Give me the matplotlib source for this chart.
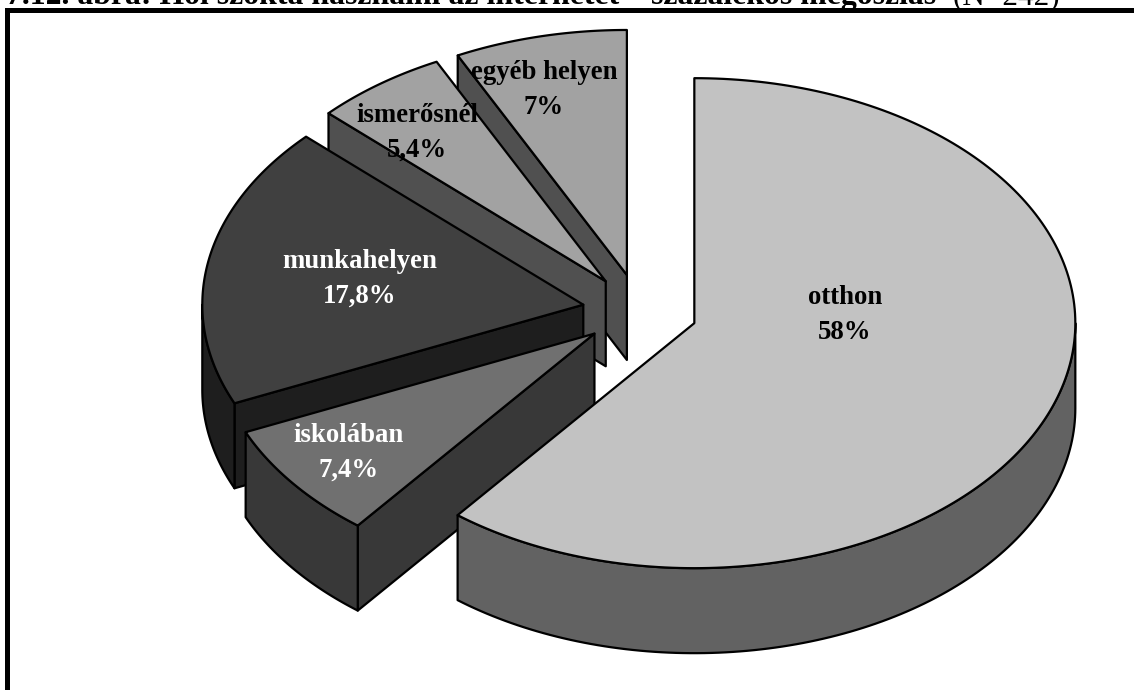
import matplotlib
matplotlib.use('Agg')
import matplotlib.pyplot as plt
import numpy as np
from matplotlib.patches import Polygon, Rectangle

labels = ['otthon', 'iskolában', 'munkahelyen', 'ismerősnél', 'egyéb helyen']
values = [58, 7.4, 17.8, 5.4, 7]
value_labels = ['58%', '7,4%', '17,8%', '5,4%', '7%']

top_colors = ['#c2c2c2', '#707070', '#404040', '#a2a2a2', '#a2a2a2']
side_colors = ['#626262', '#383838', '#1e1e1e', '#505050', '#505050']
text_colors = ['black', 'white', 'white', 'black', 'black']
# centre x and first line baseline of each label
label_pos = [(845, 304), (349, 442), (360, 268), (417, 122), (544, 79)]

# pie geometry in pixels, 3d look is just a squashed circle with a wall
cx, cy = 640, 311
rx, ry = 381, 245
depth = 85
explode = 0.151


def pt(c, theta):
    # theta clockwise from the top, y axis points down
    return np.column_stack((c[0] + rx * np.sin(theta), c[1] - ry * np.cos(theta)))


def wall(points):
    lower = points[::-1] + [0, depth]
    return np.vstack((points, lower))


fig = plt.figure(figsize=(11.34, 6.9), dpi=100)
ax = fig.add_axes([0, 0, 1, 1])
ax.set_xlim(0, 1134)
ax.set_ylim(690, 0)
ax.axis('off')

edges = np.cumsum([0] + values) / sum(values) * 2 * np.pi
slices = []
for i in range(len(values)):
    a0, a1 = edges[i], edges[i + 1]
    mid = (a0 + a1) / 2
    c = (cx + explode * rx * np.sin(mid), cy - explode * ry * np.cos(mid))
    slices.append((i, a0, a1, c))

# back to front, same order as the original
for i, a0, a1, c in [slices[k] for k in (4, 3, 2, 1, 0)]:
    lw = 1.6
    # radial wall, only when it faces the viewer
    if np.sin(a0) < -1e-6:
        seg = np.vstack(([c], pt(c, np.array([a0]))))
        ax.add_patch(Polygon(wall(seg), fc=side_colors[i], ec='black', lw=lw, joinstyle='round'))
    # outer wall
    lo, hi = max(a0, np.pi / 2), min(a1, 3 * np.pi / 2)
    if hi > lo:
        arc = pt(c, np.linspace(lo, hi, 120))
        ax.add_patch(Polygon(wall(arc), fc=side_colors[i], ec='black', lw=lw, joinstyle='round'))
    top = np.vstack(([c], pt(c, np.linspace(a0, a1, 200))))
    ax.add_patch(Polygon(top, fc=top_colors[i], ec='black', lw=lw, joinstyle='round'))

for i in range(len(values)):
    x, y = label_pos[i]
    ax.text(x, y, labels[i], ha='center', va='baseline', color=text_colors[i],
            fontsize=19.3, fontweight='bold', family='Liberation Serif')
    ax.text(x, y + 35, value_labels[i], ha='center', va='baseline', color=text_colors[i],
            fontsize=19.3, fontweight='bold', family='Liberation Serif')

# frame, only top and left are in the crop
ax.add_patch(Rectangle((5, 8), 1129, 5, fc='black', ec='none', zorder=5))
ax.add_patch(Rectangle((5, 8), 5, 682, fc='black', ec='none', zorder=5))

# the title is cut by the top edge in the original too
ax.text(6, 4, '7.12. ábra: Hol szokta használni az internetet – százalékos megoszlás',
        ha='left', va='baseline', fontsize=22.9, fontweight='bold', family='Liberation Serif')
ax.text(1060, 4, '(N=242)', ha='right', va='baseline', fontsize=22.4,
        family='Liberation Serif')

plt.savefig('out.png', dpi=100)
